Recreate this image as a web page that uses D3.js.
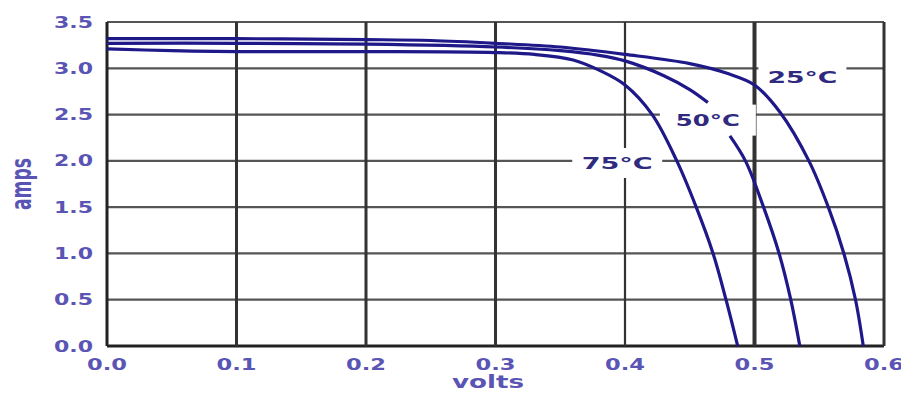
<!DOCTYPE html>
<html><head><meta charset="utf-8">
<script src="https://cdn.jsdelivr.net/npm/d3@7"></script>
<style>html,body{margin:0;padding:0;background:#fff;overflow:hidden}</style>
</head><body><svg id="c" width="901" height="394"></svg>
<script>
// ---- data ----
const xTicks = [0, 0.1, 0.2, 0.3, 0.4, 0.5, 0.6];
const xTickLabels = ["0.0", "0.1", "0.2", "0.3", "0.4", "0.5", "0.6"];
const yTicks = [0, 0.5, 1.0, 1.5, 2.0, 2.5, 3.0, 3.5];
const yTickLabels = ["0.0", "0.5", "1.0", "1.5", "2.0", "2.5", "3.0", "3.5"];

const seriesNames = ["25°C", "50°C", "75°C"];
const volts25 = [0, 0.1, 0.2, 0.25, 0.3, 0.35, 0.4, 0.45, 0.48, 0.5, 0.52, 0.542, 0.557, 0.569, 0.578, 0.584];
const amps25  = [3.32, 3.32, 3.31, 3.30, 3.27, 3.23, 3.15, 3.05, 2.94, 2.82, 2.52, 2.0, 1.5, 1.0, 0.5, 0.0];
const volts50 = [0, 0.1, 0.2, 0.3, 0.35, 0.38, 0.4, 0.43, 0.45, 0.464, 0.472, 0.481, 0.493, 0.507, 0.519, 0.528, 0.535];
const amps50  = [3.27, 3.27, 3.26, 3.23, 3.19, 3.14, 3.08, 2.92, 2.77, 2.63, null, 2.27, 2.0, 1.5, 1.0, 0.5, 0.0];
const volts75 = [0, 0.05, 0.1, 0.2, 0.3, 0.33, 0.36, 0.38, 0.4, 0.421, 0.44, 0.455, 0.468, 0.478, 0.487];
const amps75  = [3.21, 3.19, 3.18, 3.18, 3.17, 3.15, 3.09, 2.98, 2.82, 2.5, 2.0, 1.5, 1.0, 0.5, 0.0];

// label anchors (data coords)
const labelVolts = [0.537, 0.464, 0.394];
const labelAmps  = [2.905, 2.44, 1.977];

// ---- chart ----
const svg = d3.select("#c");
const x = d3.scaleLinear().domain([0, 0.6]).range([107, 884]);
const y = d3.scaleLinear().domain([0, 3.5]).range([346, 22]);

const lineCol = "#1e1888";
const tickCol = "#5a54b4";

// horizontal grid
svg.append("g").selectAll("line").data(yTicks).join("line")
  .attr("x1", x(0)).attr("x2", x(0.6))
  .attr("y1", d => y(d)).attr("y2", d => y(d))
  .attr("stroke", d => d === 0 ? "#222" : "#555")
  .attr("stroke-width", d => d === 0 ? 3 : 2.2);

// vertical grid
svg.append("g").selectAll("line").data(xTicks).join("line")
  .attr("x1", d => x(d)).attr("x2", d => x(d))
  .attr("y1", y(3.5)).attr("y2", y(0))
  .attr("stroke", d => (d === 0 ? "#222" : "#333"))
  .attr("stroke-width", d => d === 0.5 ? 4 : (d === 0.4 ? 2.2 : 3));

// label boxes (white, interrupt grid)
const boxW = [88, 96, 90], boxH = [28, 31, 30];
svg.append("g").selectAll("rect").data(seriesNames).join("rect")
  .attr("x", (d, i) => x(labelVolts[i]) - boxW[i] / 2)
  .attr("y", (d, i) => y(labelAmps[i]) - boxH[i] / 2)
  .attr("width", (d, i) => boxW[i]).attr("height", (d, i) => boxH[i])
  .attr("fill", "#fff");

// curves
const line = d3.line()
  .defined(d => d[1] !== null)
  .x(d => x(d[0])).y(d => y(d[1]))
  .curve(d3.curveCatmullRom.alpha(0.5));
const series = [
  d3.zip(volts25, amps25),
  d3.zip(volts50, amps50),
  d3.zip(volts75, amps75)
];
svg.append("g").selectAll("path").data(series).join("path")
  .attr("d", line)
  .attr("fill", "none")
  .attr("stroke", lineCol)
  .attr("stroke-width", 3.2)
  .attr("stroke-linejoin", "round");

// curve labels
const labW = [70, 64, 71];
svg.append("g").selectAll("text").data(seriesNames).join("text")
  .attr("x", (d, i) => x(labelVolts[i]))
  .attr("y", (d, i) => y(labelAmps[i]) + 6)
  .attr("text-anchor", "middle")
  .attr("font-family", "DejaVu Sans")
  .attr("font-weight", "bold")
  .attr("font-size", 16)
  .attr("fill", "#2f2a80")
  .attr("textLength", (d, i) => labW[i])
  .attr("lengthAdjust", "spacingAndGlyphs")
  .text(d => d);

// y tick labels
svg.append("g").selectAll("text").data(yTicks).join("text")
  .attr("x", 93).attr("y", d => y(d) + 5.5)
  .attr("text-anchor", "end")
  .attr("font-family", "DejaVu Sans").attr("font-weight", "bold")
  .attr("font-size", 15).attr("fill", tickCol)
  .attr("textLength", 39).attr("lengthAdjust", "spacingAndGlyphs")
  .text((d, i) => yTickLabels[i]);

// x tick labels
svg.append("g").selectAll("text").data(xTicks).join("text")
  .attr("x", d => x(d)).attr("y", 370)
  .attr("text-anchor", "middle")
  .attr("font-family", "DejaVu Sans").attr("font-weight", "bold")
  .attr("font-size", 15).attr("fill", tickCol)
  .attr("textLength", 40).attr("lengthAdjust", "spacingAndGlyphs")
  .text((d, i) => xTickLabels[i]);

// axis titles
svg.append("text")
  .attr("x", 488).attr("y", 388)
  .attr("text-anchor", "middle")
  .attr("font-family", "DejaVu Sans").attr("font-weight", "bold")
  .attr("font-size", 17).attr("fill", tickCol)
  .attr("textLength", 72).attr("lengthAdjust", "spacingAndGlyphs")
  .text("volts");

svg.append("text")
  .attr("transform", "translate(31,184) scale(1.7,1) rotate(-90)")
  .attr("text-anchor", "middle")
  .attr("font-family", "DejaVu Sans").attr("font-weight", "bold")
  .attr("font-size", 17).attr("fill", tickCol)
  .attr("textLength", 52).attr("lengthAdjust", "spacingAndGlyphs")
  .text("amps");
</script></body></html>
